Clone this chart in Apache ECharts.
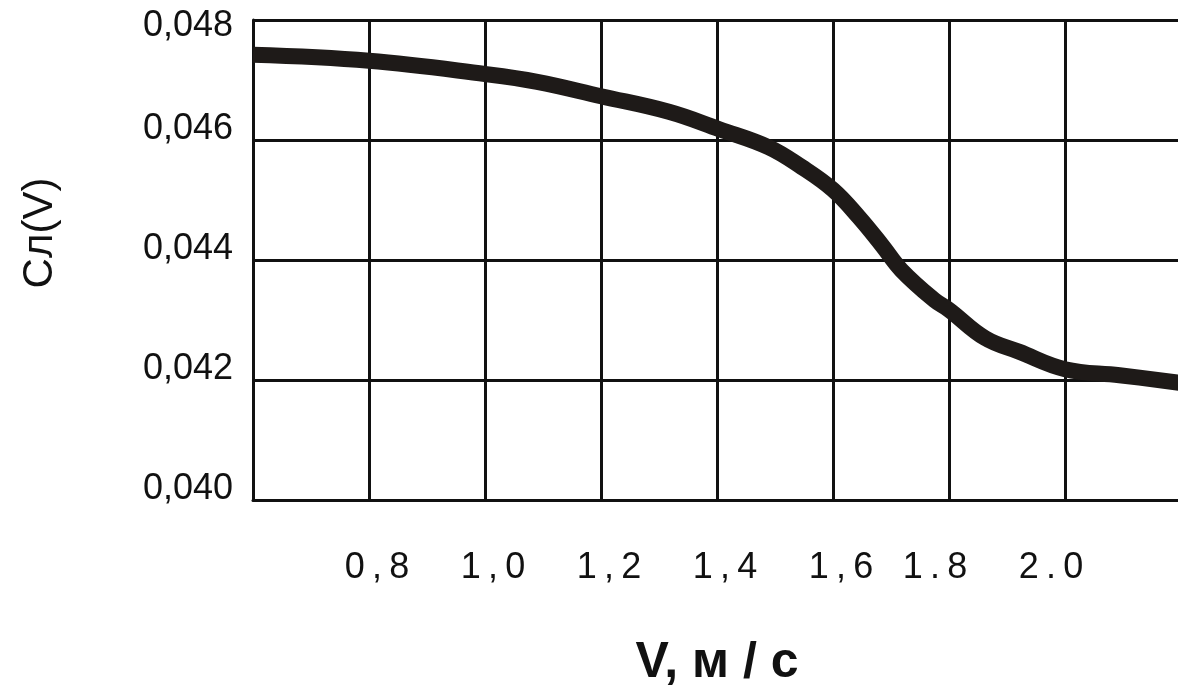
<!DOCTYPE html>
<html>
<head>
<meta charset="utf-8">
<script src="https://cdn.jsdelivr.net/npm/echarts@6/dist/echarts.min.js"></script>
<style>
  html, body { margin: 0; padding: 0; background: #fff; }
  #chart { width: 1178px; height: 688px; }
</style>
</head>
<body>
<div id="chart"></div>
<script>
  // скорость V, м/с
  var vData = [0.6, 0.8, 1.0, 1.09, 1.2, 1.317, 1.404, 1.489, 1.546, 1.6, 1.644, 1.684, 1.718, 1.775, 1.8, 1.862, 1.921, 2.0, 2.094, 2.2];
  // Сл(V)
  var cData = [0.04742, 0.04732, 0.0471, 0.04697, 0.04673, 0.04647, 0.04618, 0.04588, 0.04555, 0.04517, 0.04472, 0.04425, 0.04383, 0.04333, 0.04317, 0.0427, 0.04247, 0.04218, 0.04208, 0.04195];
  // подписи делений
  var xTickLabels = ['', '0,8', '1,0', '1,2', '1,4', '1,6', '1.8', '2.0', ''];
  var yTickLabels = ['0,040', '0,042', '0,044', '0,046', '0,048'];

  var ink = '#111';
  var fontFam = '"Liberation Sans", Arial, sans-serif';

  var myChart = echarts.init(document.getElementById('chart'));
  myChart.setOption({
    animation: false,
    grid: {
      left: 253,
      top: 20,
      right: -3,
      bottom: 188,
      containLabel: false,
      outerBoundsMode: 'none'
    },
    xAxis: {
      type: 'value',
      min: 0.6,
      max: 2.2,
      interval: 0.2,
      name: 'V, м / с',
      nameLocation: 'middle',
      nameGap: 138,
      nameTextStyle: {
        color: ink,
        fontSize: 50,
        fontWeight: 'bold',
        fontFamily: fontFam
      },
      axisLine: { show: true, lineStyle: { color: ink, width: 3 } },
      axisTick: { show: false },
      splitLine: { show: true, lineStyle: { color: ink, width: 3 } },
      axisLabel: {
        margin: 50,
        color: ink,
        fontSize: 36,
        fontFamily: fontFam,
        formatter: function (v) {
          var i = Math.round((v - 0.6) / 0.2);
          var t = xTickLabels[i] || '';
          if (!t) return '';
          // немного разрядки между знаками
          t = t.split('').join('\u2009');
          return i >= 6 ? '{l|' + t + '}' : '{r|' + t + '}';
        },
        rich: {
          r: { fontSize: 36, color: ink, fontFamily: fontFam, padding: [0, 0, 0, 16] },
          l: { fontSize: 36, color: ink, fontFamily: fontFam, padding: [0, 28, 0, 0] }
        }
      }
    },
    yAxis: {
      type: 'value',
      min: 0.040,
      max: 0.048,
      interval: 0.002,
      name: 'Сл(V)',
      nameLocation: 'middle',
      nameRotate: 90,
      nameGap: 192,
      nameTextStyle: {
        color: ink,
        fontSize: 42,
        fontFamily: fontFam,
        padding: [0, 0, 0, 54]
      },
      axisLine: { show: true, lineStyle: { color: ink, width: 3 } },
      axisTick: { show: false },
      splitLine: { show: true, lineStyle: { color: ink, width: 3 } },
      axisLabel: {
        margin: 20,
        color: ink,
        fontSize: 36,
        fontFamily: fontFam,
        formatter: function (v) {
          var i = Math.round((v - 0.040) / 0.002);
          var t = yTickLabels[i] || '';
          return i === 4 ? '{t|' + t + '}' : '{b|' + t + '}';
        },
        rich: {
          t: { fontSize: 36, color: ink, fontFamily: fontFam, padding: [12, 0, 0, 0] },
          b: { fontSize: 36, color: ink, fontFamily: fontFam, padding: [0, 0, 22, 0] }
        }
      }
    },
    series: [
      {
        type: 'line',
        data: vData.map(function (v, i) { return [v, cData[i]]; }),
        smooth: 0.4,
        symbol: 'none',
        clip: false,
        lineStyle: { color: '#1e1a18', width: 16, cap: 'butt' }
      }
    ]
  });
</script>
</body>
</html>
